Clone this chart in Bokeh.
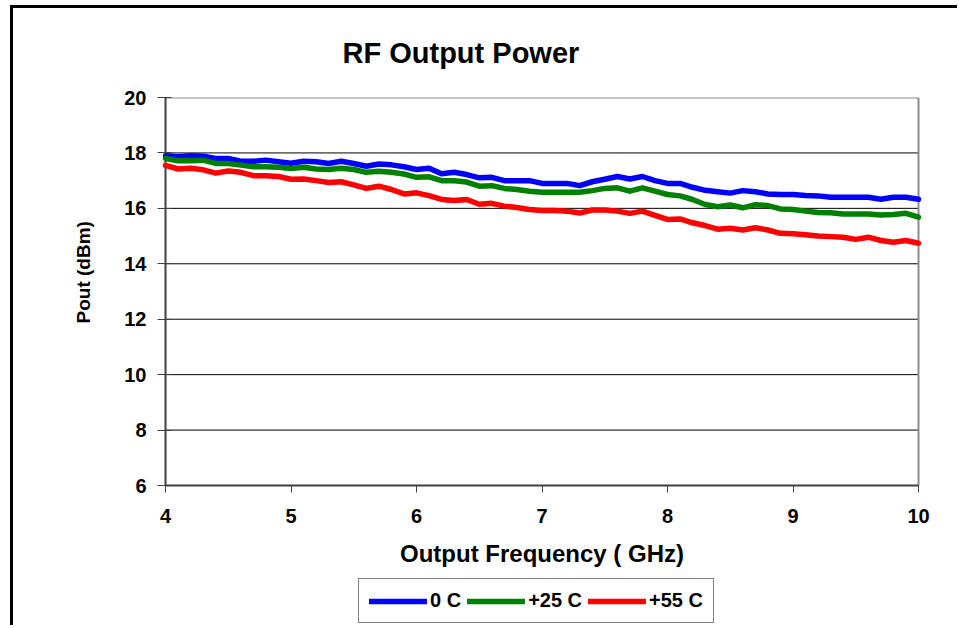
from bokeh.plotting import figure
from bokeh.models import Range1d, FixedTicker, Legend, LegendItem, Title
from bokeh.embed import file_html
from bokeh.resources import INLINE

freq_ghz = [4.0, 4.1, 4.2, 4.3, 4.4, 4.5, 4.6, 4.7, 4.8, 4.9,
            5.0, 5.1, 5.2, 5.3, 5.4, 5.5, 5.6, 5.7, 5.8, 5.9,
            6.0, 6.1, 6.2, 6.3, 6.4, 6.5, 6.6, 6.7, 6.8, 6.9,
            7.0, 7.1, 7.2, 7.3, 7.4, 7.5, 7.6, 7.7, 7.8, 7.9,
            8.0, 8.1, 8.2, 8.3, 8.4, 8.5, 8.6, 8.7, 8.8, 8.9,
            9.0, 9.1, 9.2, 9.3, 9.4, 9.5, 9.6, 9.7, 9.8, 9.9, 10.0]

pout_0c = [17.90, 17.86, 17.90, 17.88, 17.80, 17.80, 17.70, 17.70, 17.74, 17.68,
           17.63, 17.70, 17.68, 17.62, 17.70, 17.62, 17.52, 17.60, 17.57, 17.50,
           17.40, 17.45, 17.25, 17.30, 17.22, 17.10, 17.12, 17.00, 17.00, 17.00,
           16.90, 16.90, 16.90, 16.82, 16.96, 17.05, 17.15, 17.06, 17.15, 17.00,
           16.90, 16.90, 16.76, 16.65, 16.60, 16.55, 16.64, 16.60, 16.52, 16.50,
           16.50, 16.46, 16.45, 16.40, 16.40, 16.40, 16.40, 16.33, 16.40, 16.40, 16.33]

pout_25c = [17.80, 17.72, 17.72, 17.74, 17.62, 17.62, 17.56, 17.50, 17.50, 17.48,
            17.44, 17.48, 17.42, 17.40, 17.45, 17.40, 17.30, 17.34, 17.30, 17.24,
            17.12, 17.14, 17.00, 17.00, 16.95, 16.80, 16.82, 16.72, 16.68, 16.62,
            16.58, 16.58, 16.58, 16.58, 16.64, 16.72, 16.74, 16.62, 16.74, 16.62,
            16.50, 16.45, 16.32, 16.14, 16.06, 16.12, 16.02, 16.13, 16.10, 15.98,
            15.96, 15.90, 15.85, 15.84, 15.80, 15.80, 15.80, 15.76, 15.78, 15.82, 15.68]

pout_55c = [17.55, 17.42, 17.45, 17.39, 17.27, 17.35, 17.30, 17.18, 17.18, 17.15,
            17.05, 17.06, 17.00, 16.93, 16.96, 16.85, 16.72, 16.80, 16.68, 16.52,
            16.56, 16.46, 16.32, 16.28, 16.32, 16.15, 16.18, 16.08, 16.03, 15.96,
            15.92, 15.92, 15.90, 15.83, 15.94, 15.94, 15.90, 15.82, 15.90, 15.75,
            15.60, 15.62, 15.48, 15.38, 15.25, 15.28, 15.22, 15.30, 15.22, 15.10,
            15.08, 15.05, 15.00, 14.98, 14.96, 14.88, 14.96, 14.84, 14.78, 14.84, 14.74]

series_names = ["0 C", "+25 C", "+55 C"]
series_colors = ["#0000FF", "#008000", "#FF0000"]
x_ticks = [4, 5, 6, 7, 8, 9, 10]
y_ticks = [6, 8, 10, 12, 14, 16, 18, 20]
grid_ticks = [8, 10, 12, 14, 16, 18]

FONT = "Liberation Sans"
X_MIN, X_MAX = 4, 10
Y_MIN, Y_MAX = 6, 20
PLOT_W, PLOT_H = 753, 388     # pixel size of the 4..10 x 6..20 plot area
PAD_L, PAD_R = 8, 14          # frame padding so the end tick labels are not cut
FRAME_H = 528                 # frame extends below the plot area to hold axis texts and legend
px_x = PLOT_W / (X_MAX - X_MIN)
x_lo = X_MIN - PAD_L / px_x
x_hi = X_MAX + PAD_R / px_x
y_lo = Y_MIN - (FRAME_H - PLOT_H) * (Y_MAX - Y_MIN) / PLOT_H

p = figure(width=None, height=None, frame_width=PLOT_W + PAD_L + PAD_R, frame_height=FRAME_H,
           output_backend="svg", toolbar_location=None,
           x_range=Range1d(x_lo, x_hi), y_range=Range1d(y_lo, Y_MAX),
           min_border_left=144, min_border_right=25, min_border_top=89,
           min_border_bottom=0)
p.styles = {"border-top": "3px solid black", "border-left": "3px solid black",
            "margin-left": "10px", "margin-top": "5px"}

p.title = Title(text="RF Output Power", align="left", offset=185, vertical_align="top",
                text_font=FONT, text_font_size="29px", text_font_style="bold",
                text_color="black", standoff=54)

p.background_fill_color = "white"
p.border_fill_color = "white"
p.outline_line_color = None
p.xgrid.visible = False
p.ygrid.visible = False

# horizontal grid lines, top/right plot-area border and left axis line
p.segment(x0=X_MIN, x1=X_MAX, y0=grid_ticks, y1=grid_ticks, line_color="black", line_width=1)
p.segment(x0=X_MIN, x1=X_MAX, y0=Y_MAX, y1=Y_MAX, line_color="#8c8c8c", line_width=2)
p.segment(x0=X_MAX, x1=X_MAX, y0=Y_MIN, y1=Y_MAX, line_color="#8c8c8c", line_width=2)
p.segment(x0=X_MIN, x1=X_MIN, y0=Y_MIN, y1=Y_MAX, line_color="#404040", line_width=2)

p.xaxis.ticker = FixedTicker(ticks=x_ticks)
p.yaxis.ticker = FixedTicker(ticks=y_ticks)
p.xaxis.fixed_location = Y_MIN
p.xaxis.bounds = (X_MIN, X_MAX)
p.yaxis.bounds = (Y_MIN, Y_MAX)
for ax in (p.xaxis[0], p.yaxis[0]):
    ax.axis_line_color = "#404040"
    ax.axis_line_width = 2
    ax.major_tick_line_color = "#404040"
    ax.major_tick_line_width = 1
    ax.minor_tick_line_color = None
    ax.major_label_text_font = FONT
    ax.major_label_text_font_size = "20px"
    ax.major_label_text_font_style = "bold"
    ax.major_label_text_color = "black"
    ax.axis_label_text_font = FONT
    ax.axis_label_text_font_style = "bold"
    ax.axis_label_text_color = "black"

p.xaxis.major_tick_in = 0
p.xaxis.major_tick_out = 7
p.xaxis.major_label_standoff = 16
p.xaxis.axis_label = "Output Frequency ( GHz)"
p.xaxis.axis_label_text_font_size = "24px"
p.xaxis.axis_label_standoff = 14

p.yaxis.axis_line_color = None
p.yaxis.major_tick_out = 0
p.yaxis.major_tick_in = PAD_L + 6
p.yaxis.major_label_standoff = 11

ylabel = Title(text="Pout (dBm)", align="left", offset=302,
               text_font=FONT, text_font_size="19px", text_font_style="bold",
               text_color="black", standoff=56)
p.add_layout(ylabel, "left")

items = []
for name, ys, col in zip(series_names, [pout_0c, pout_25c, pout_55c], series_colors):
    r = p.line(freq_ghz, ys, line_color=col, line_width=5.5, line_join="round", line_cap="round")
    items.append(LegendItem(label=name, renderers=[r]))

legend = Legend(items=items, orientation="horizontal", location=(201, 2),
                border_line_color="black", border_line_width=1,
                label_text_font=FONT, label_text_font_size="20px",
                label_text_font_style="bold", label_text_color="black",
                glyph_width=58, glyph_height=20, label_standoff=3, spacing=6,
                padding=10, margin=0, background_fill_alpha=1)
p.add_layout(legend, "center")

open("out.html", "w").write(file_html(p, INLINE))
